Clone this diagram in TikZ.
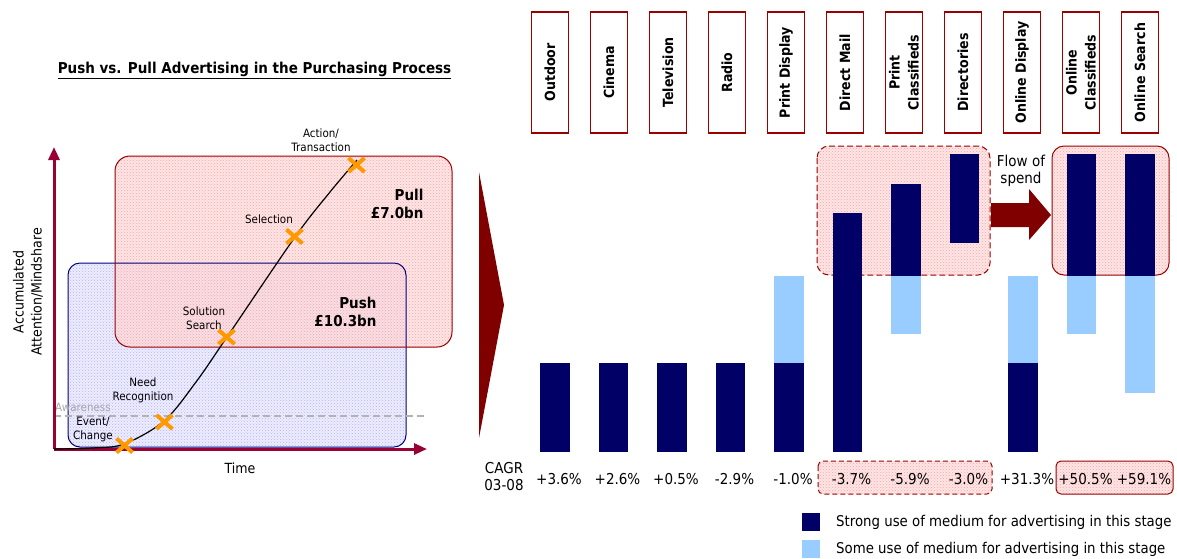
\documentclass[tikz,border=0pt]{standalone}
\usepackage{fontspec}
\setmainfont{DejaVu Sans}[FakeStretch=0.9]
\usetikzlibrary{arrows.meta, patterns, shapes.misc}

\definecolor{axisred}{HTML}{990033}
\definecolor{boxred}{HTML}{990000}
\definecolor{arrowred}{HTML}{800000}
\definecolor{navybar}{HTML}{000066}
\definecolor{lightbar}{HTML}{99CCFF}
\definecolor{pushblue}{HTML}{000080}
\definecolor{xorange}{HTML}{FF9900}
\newcommand\fsz[2]{\fontsize{#1}{#2}\selectfont}

\tikzset{
  mediumbox/.style={draw=boxred, line width=1.3pt, rotate=90, minimum width=121pt,
    minimum height=37pt, inner sep=0pt, align=center, font=\fsz{14}{19}\bfseries},
  pullfill/.style={fill=red!14, fill opacity=0.7},
  pushfill/.style={fill=blue!7},
  steplabel/.style={font=\fsz{11.5}{14}, align=center, inner sep=0pt},
  xmark/.style={cross out, draw=xorange, line width=4pt, minimum width=12pt,
    minimum height=10pt, inner sep=0pt},
  axis/.style={draw=axisred, line width=3pt, -{Triangle[width=11pt,length=13pt]}},
}

\begin{document}
\begin{tikzpicture}[x=1pt, y=-1pt]
\useasboundingbox (0,0) rectangle (1177,558);

% title
\node[font=\fsz{15}{18}\bfseries] (title) at (254.5,70) {\underline{Push vs. Pull Advertising in the Purchasing Process}};

% push and pull areas
\fill[pushfill, rounded corners=12pt] (68,263) rectangle (406,447);
\fill[pattern=crosshatch dots, pattern color=blue!30, rounded corners=12pt] (68,263) rectangle (406,447);
\fill[pullfill, rounded corners=15pt] (115,156) rectangle (452,347);
\fill[pattern=crosshatch dots, pattern color=red!35, rounded corners=15pt] (115,156) rectangle (452,347);
\draw[pushblue, line width=1pt, rounded corners=12pt] (68,263) rectangle (406,447);
\draw[boxred, line width=1pt, rounded corners=15pt] (115,156) rectangle (452,347);

\node[font=\fsz{15}{18}\bfseries, align=right, anchor=east] (pull) at (427,204) {Pull\\£7.0bn};
\node[font=\fsz{15}{18}\bfseries, align=right, anchor=east] (push) at (380,312) {Push\\£10.3bn};

% awareness
\draw[gray!60, line width=1.5pt, dash pattern=on 7pt off 4pt] (54,416) -- (425,416);
\node[steplabel, text=gray!70, anchor=west] (aware) at (55,407) {Awareness};

% axes
\coordinate (origin) at (54,449);
\draw[axis] (origin) -- (54,147);
\draw[axis] (origin) -- (427,449);
\node[font=\fsz{14}{18}, align=center, rotate=90] (ylab) at (28,292) {Accumulated\\Attention/Mindshare};
\node[font=\fsz{14}{17}] (time) at (240,468) {Time};

% purchasing curve
\draw[line width=1.2pt] plot[smooth, tension=0.55] coordinates {(54,449) (92,448) (124,444) (164,421) (196,382) (227,337) (295,237) (330,192) (357,160)};

\node[xmark] (ev) at (124.5,445.5) {};
\node[xmark] (need) at (164.5,422) {};
\node[xmark] (sol) at (226.5,337) {};
\node[xmark] (sel) at (294.5,236.5) {};
\node[xmark] (act) at (356.5,165) {};

\node[steplabel] at (93,429) {Event/\\Change};
\node[steplabel] at (143,390.5) {Need\\Recognition};
\node[steplabel] at (204,318.5) {Solution\\Search};
\node[steplabel] at (269,219) {Selection};
\node[steplabel] at (321,140.5) {Action/\\Transaction};

% big arrow
\fill[arrowred] (479,172) -- (504,305) -- (479,438) -- cycle;

% pull boxes on the right
\fill[pullfill, rounded corners=12pt] (817,146) rectangle (990,275);
\fill[pattern=crosshatch dots, pattern color=red!35, rounded corners=12pt] (817,146) rectangle (990,275);
\draw[boxred, line width=1pt, dash pattern=on 6pt off 3pt, rounded corners=12pt] (817,146) rectangle (990,275);
\fill[pullfill, rounded corners=12pt] (1052,146) rectangle (1169,275);
\fill[pattern=crosshatch dots, pattern color=red!35, rounded corners=12pt] (1052,146) rectangle (1169,275);
\draw[boxred, line width=1pt, rounded corners=12pt] (1052,146) rectangle (1169,275);

% media headers
\foreach \name [count=\i] in {Outdoor, Cinema, Television, Radio, Print Display, Direct Mail,
  {Print\\Classifieds}, Directories, Online Display, {Online\\Classifieds}, Online Search}
  \node[mediumbox] (hdr\i) at ({550+59*(\i-1)},72.5) {\name};

% bars: strong use
\foreach \i/\top/\bot in {1/363/452, 2/363/452, 3/363/452, 4/363/452, 5/363/452, 6/213/452,
  7/184/276, 8/154/243, 9/363/452, 10/154/276, 11/154/276}
  \fill[navybar] ({540+58.5*(\i-1)},\top) rectangle ({569.5+58.5*(\i-1)},\bot);
% bars: some use
\foreach \i/\top/\bot in {5/276/363, 7/276/334, 9/276/363, 10/276/334, 11/276/393}
  \fill[lightbar] ({540+58.5*(\i-1)},\top) rectangle ({569.5+58.5*(\i-1)},\bot);

% flow of spend
\fill[arrowred] (991,203) -- (1029,203) -- (1029,189) -- (1051,215) -- (1029,240) -- (1029,227) -- (991,227) -- cycle;
\node[font=\fsz{15}{17}, align=center] (flow) at (1021,170.5) {Flow of\\spend};

% CAGR row
\fill[pullfill, rounded corners=5pt] (818,461) rectangle (992,494);
\fill[pattern=crosshatch dots, pattern color=red!35, rounded corners=5pt] (818,461) rectangle (992,494);
\draw[boxred, line width=1pt, dash pattern=on 5pt off 3pt, rounded corners=5pt] (818,461) rectangle (992,494);
\fill[pullfill, rounded corners=5pt] (1056,461) rectangle (1173,494);
\fill[pattern=crosshatch dots, pattern color=red!35, rounded corners=5pt] (1056,461) rectangle (1173,494);
\draw[boxred, line width=1pt, rounded corners=5pt] (1056,461) rectangle (1173,494);

\node[font=\fsz{15}{17}, align=center] (cagr) at (504,476.5) {CAGR\\03-08};
\foreach \v [count=\i] in {+3.6\%, +2.6\%, +0.5\%, -2.9\%, -1.0\%, -3.7\%, -5.9\%, -3.0\%, +31.3\%, +50.5\%, +59.1\%}
  \node[font=\fsz{15}{17}] (val\i) at ({559+58.5*(\i-1)},479) {\v};

% legend
\fill[navybar] (802,513) rectangle (820,531);
\fill[lightbar] (802,540) rectangle (820,558);
\node[font=\fsz{14.8}{17}, anchor=west, inner sep=0pt] (strong) at (836,522) {Strong use of medium for advertising in this stage};
\node[font=\fsz{14.8}{17}, anchor=west, inner sep=0pt] (some) at (836,549) {Some use of medium for advertising in this stage};
\end{tikzpicture}
\end{document}
